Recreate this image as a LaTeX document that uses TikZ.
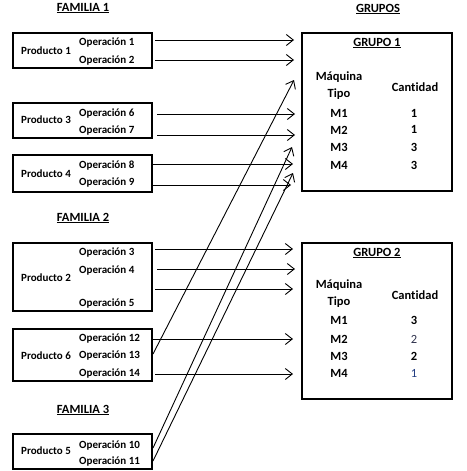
\documentclass[tikz,border=0pt]{standalone}
\usepackage{fontspec}
\setmainfont[Ligatures=NoCommon]{Carlito}
\usetikzlibrary{arrows.meta}
\definecolor{valtwo}{RGB}{45,48,75}
\definecolor{valone}{RGB}{35,62,130}
\begin{document}
\begin{tikzpicture}[x=1pt,y=-1pt,
  box/.style={draw,line width=2pt,inner sep=0pt},
  lt/.style={font=\fontsize{11}{13}\selectfont\bfseries,anchor=west,inner sep=0pt},
  rt/.style={font=\fontsize{12.5}{14}\selectfont\bfseries,inner sep=0pt},
  hd/.style={font=\fontsize{12.5}{14}\selectfont\bfseries,inner sep=0pt},
  conn/.style={line width=0.9pt,-{Straight Barb[length=7pt,width=11pt,line width=0.9pt]}}]
\useasboundingbox (0,0) rectangle (466,471);

% headings
\node[hd] (f1) at (83,8) {\underline{FAMILIA 1}};
\node[hd] (f2) at (83,218) {\underline{FAMILIA 2}};
\node[hd] (f3) at (83,410) {\underline{FAMILIA 3}};
\node[hd] (gs) at (378,9) {\underline{GRUPOS}};

% left boxes
\node[box,minimum width=139,minimum height=35] (b1) at (82.5,50.5) {};
\node[box,minimum width=139,minimum height=35] (b3) at (82.5,120.5) {};
\node[box,minimum width=139,minimum height=37] (b4) at (82.5,173.5) {};
\node[box,minimum width=139,minimum height=68] (b2) at (82.5,277) {};
\node[box,minimum width=139,minimum height=52] (b6) at (82.5,355) {};
\node[box,minimum width=139,minimum height=35] (b5) at (82.5,451.5) {};

% left texts
\node[lt] (p1) at (21,51) {Producto 1};
\node[lt] (o1) at (79,43) {Operación 1};
\node[lt] (o2) at (79,61) {Operación 2};
\node[lt] (p3) at (21,120) {Producto 3};
\node[lt] (o6) at (79,114) {Operación 6};
\node[lt] (o7) at (79,131) {Operación 7};
\node[lt] (p4) at (21,174) {Producto 4};
\node[lt] (o8) at (79,166) {Operación 8};
\node[lt] (o9) at (79,183) {Operación 9};
\node[lt] (p2) at (21,278) {Producto 2};
\node[lt] (o3) at (79,253) {Operación 3};
\node[lt] (o4) at (79,271) {Operación 4};
\node[lt] (o5) at (79,304) {Operación 5};
\node[lt] (p6) at (21,356) {Producto 6};
\node[lt] (o12) at (79,339) {Operación 12};
\node[lt] (o13) at (79,356) {Operación 13};
\node[lt] (o14) at (79,373) {Operación 14};
\node[lt] (p5) at (21,451) {Producto 5};
\node[lt] (o10) at (79,445) {Operación 10};
\node[lt] (o11) at (79,461) {Operación 11};

% right boxes
\node[box,minimum width=150,minimum height=158] (g1) at (377,112) {};
\node[box,minimum width=150,minimum height=156] (g2) at (377,321) {};

% grupo 1 contents
\node[rt] (g1t) at (377,43) {\underline{GRUPO 1}};
\node[rt] (g1m) at (339,77) {Máquina};
\node[rt] (g1tp) at (339,94) {Tipo};
\node[rt] (g1c) at (415,87) {Cantidad};
\node[rt] (g1m1) at (339,113) {M1};
\node[rt] (g1m2) at (339,130) {M2};
\node[rt] (g1m3) at (339,147) {M3};
\node[rt] (g1m4) at (339,165) {M4};
\node[rt] (g1v1) at (414,113) {1};
\node[rt] (g1v2) at (414,129) {1};
\node[rt] (g1v3) at (414,147) {3};
\node[rt] (g1v4) at (414,165) {3};

% grupo 2 contents
\node[rt] (g2t) at (377,253) {\underline{GRUPO 2}};
\node[rt] (g2m) at (339,285) {Máquina};
\node[rt] (g2tp) at (339,302) {Tipo};
\node[rt] (g2c) at (415,295) {Cantidad};
\node[rt] (g2m1) at (339,320) {M1};
\node[rt] (g2m2) at (339,339) {M2};
\node[rt] (g2m3) at (339,356) {M3};
\node[rt] (g2m4) at (339,373) {M4};
\node[rt] (g2v1) at (414,320) {3};
\node[rt,font=\fontsize{12.5}{14}\selectfont,text=valtwo] (g2v2) at (414,339) {2};
\node[rt] (g2v3) at (414,356) {2};
\node[rt,font=\fontsize{12.5}{14}\selectfont,text=valone] (g2v4) at (414,373) {1};

% connector end points
\coordinate (s1) at (155,40);   \coordinate (e1) at (294,40);
\coordinate (s2) at (155,60);   \coordinate (e2) at (294,60);
\coordinate (s6) at (157,114);  \coordinate (e6) at (295,114);
\coordinate (s7) at (157,135);  \coordinate (e7) at (295,135);
\coordinate (s8) at (152,164);  \coordinate (e8) at (293,164);
\coordinate (s9) at (152,185);  \coordinate (e9) at (291,185);
\coordinate (s3) at (155,249);  \coordinate (e3) at (293,249);
\coordinate (s4) at (157,269);  \coordinate (e4) at (295,269);
\coordinate (s5) at (155,289);  \coordinate (e5) at (293,289);
\coordinate (s12) at (152,339); \coordinate (e12) at (293,339);
\coordinate (s14) at (155,374); \coordinate (e14) at (293,374);
\coordinate (s13) at (153,354); \coordinate (e13) at (294,80);
\coordinate (s10) at (153,448); \coordinate (e10) at (292,147);
\coordinate (s11) at (153,461); \coordinate (e11) at (293,173);

\foreach \k in {1,2,6,7,8,9,3,4,5,12,14,13,10,11}
  \draw[conn] (s\k) -- (e\k);
\end{tikzpicture}
\end{document}
